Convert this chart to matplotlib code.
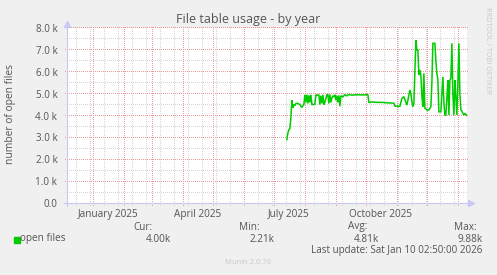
import numpy as np
import pandas as pd
import matplotlib
matplotlib.use('Agg')
import matplotlib.pyplot as plt
import matplotlib.dates as mdates
from matplotlib.lines import Line2D
from matplotlib.transforms import IdentityTransform

plt.rcParams['font.family'] = ['Open Sans', 'DejaVu Sans']

# ---- data (open files, in thousands) ----
dates = [
    '2025-07-14', '2025-07-15', '2025-07-16', '2025-07-17', '2025-07-18', '2025-07-19',
    '2025-07-20', '2025-07-21', '2025-07-22', '2025-07-23', '2025-07-25', '2025-07-27',
    '2025-07-28', '2025-07-29', '2025-07-30', '2025-07-31', '2025-08-01', '2025-08-02',
    '2025-08-03', '2025-08-04', '2025-08-05', '2025-08-06', '2025-08-07', '2025-08-08',
    '2025-08-09', '2025-08-11', '2025-08-12', '2025-08-13', '2025-08-15', '2025-08-16',
    '2025-08-17', '2025-08-18', '2025-08-19', '2025-08-20', '2025-08-21', '2025-08-23',
    '2025-08-24', '2025-08-25', '2025-08-26', '2025-08-27', '2025-08-28', '2025-08-29',
    '2025-08-30', '2025-08-31', '2025-09-01', '2025-09-02', '2025-09-03', '2025-09-04',
    '2025-09-05', '2025-09-06', '2025-09-08', '2025-09-10', '2025-09-12', '2025-09-14',
    '2025-09-17', '2025-09-22', '2025-09-27', '2025-10-03', '2025-10-04', '2025-10-07',
    '2025-10-12', '2025-10-17', '2025-10-22', '2025-10-27', '2025-10-29', '2025-10-30',
    '2025-11-04', '2025-11-06', '2025-11-08', '2025-11-10', '2025-11-11', '2025-11-12',
    '2025-11-14', '2025-11-15', '2025-11-16', '2025-11-17', '2025-11-18', '2025-11-19',
    '2025-11-20', '2025-11-21', '2025-11-22', '2025-11-23', '2025-11-24', '2025-11-25',
    '2025-11-26', '2025-11-27', '2025-11-28', '2025-11-29', '2025-11-30', '2025-12-01',
    '2025-12-03', '2025-12-04', '2025-12-05', '2025-12-06', '2025-12-07', '2025-12-09',
    '2025-12-10', '2025-12-11', '2025-12-12', '2025-12-13', '2025-12-15', '2025-12-16',
    '2025-12-17', '2025-12-18', '2025-12-19', '2025-12-20', '2025-12-21', '2025-12-22',
    '2025-12-23', '2025-12-24', '2025-12-25', '2025-12-26', '2025-12-27', '2025-12-28',
    '2025-12-29', '2025-12-30', '2025-12-31', '2026-01-01', '2026-01-02', '2026-01-03',
    '2026-01-04', '2026-01-05', '2026-01-06', '2026-01-07', '2026-01-08', '2026-01-10',
]
open_files = [
    2.90, 3.20, 3.35, 3.40, 3.90, 4.70,
    4.35, 4.50, 4.45, 4.55, 4.55, 4.50,
    4.42, 4.38, 4.45, 4.50, 4.95, 4.60,
    4.95, 4.55, 4.92, 4.60, 4.95, 4.50,
    4.50, 4.52, 4.95, 4.92, 4.95, 4.50,
    4.90, 4.55, 4.95, 4.50, 4.60, 4.95,
    4.95, 4.55, 4.96, 4.60, 4.80, 4.90,
    4.85, 4.95, 4.70, 4.90, 4.60, 4.92,
    4.42, 4.90, 4.85, 4.95, 4.90, 4.96,
    4.93, 4.95, 4.94, 4.95, 4.60, 4.62,
    4.60, 4.60, 4.58, 4.57, 4.56, 4.43,
    4.42, 4.78, 4.86, 4.60, 4.48, 4.70,
    5.17, 5.00, 4.63, 4.40, 4.55, 6.00,
    7.45, 7.00, 7.00, 5.85, 6.08, 5.85,
    4.90, 4.40, 5.93, 4.33, 4.30, 4.25,
    4.25, 4.33, 4.40, 5.50, 7.30, 7.30,
    6.50, 5.93, 5.62, 4.17, 4.17, 5.00,
    5.77, 4.60, 4.02, 4.02, 4.80, 5.62,
    4.02, 5.62, 5.70, 7.30, 5.00, 4.02,
    5.62, 4.80, 4.02, 5.50, 7.30, 5.00,
    4.25, 4.20, 4.10, 4.02, 4.10, 4.00,
]

y_ticks = [0, 1, 2, 3, 4, 5, 6, 7, 8]
y_tick_labels = ['0.0', '1.0 k', '2.0 k', '3.0 k', '4.0 k', '5.0 k', '6.0 k', '7.0 k', '8.0 k']
label_months = ['2025-01-01', '2025-04-01', '2025-07-01', '2025-10-01']
label_texts = ['January 2025', 'April 2025', 'July 2025', 'October 2025']

stat_names = ['Cur:', 'Min:', 'Avg:', 'Max:']
stat_values = ['4.00k', '2.21k', '4.81k', '9.88k']

end_time = pd.Timestamp('2026-01-10 02:50:00')
start_time = end_time - pd.Timedelta(days=400)

# ---- colours ----
bg = '#F0F0F0'
txt = '#555555'
green = '#00CC00'
major_c = '#EA9A9A'
minor_c = '#D4D4D4'
axis_c = '#C8C8F5'

W, H = 497, 275
fig = plt.figure(figsize=(W / 100, H / 100), dpi=100, facecolor=bg)
ax = fig.add_axes([67 / W, 1 - 203 / H, 400 / W, 175 / H])
ax.set_facecolor('white')
for s in ax.spines.values():
    s.set_visible(False)

ax.set_xlim(start_time, end_time)
ax.set_ylim(0, 8)

# dotted grid drawn pixel by pixel (rrdtool style)
def px_x(d):
    return int(np.floor(ax.transData.transform((mdates.date2num(d), 0))[0]))

def px_y(v):
    return int(np.floor(ax.transData.transform((mdates.date2num(start_time), v))[1]))

left_px, bottom_px = px_x(start_time), px_y(0)
right_px, top_px = px_x(end_time), px_y(8)

def dotted(xs_px, ys_px, color, z):
    ln = Line2D(np.asarray(xs_px) + 0.5, np.asarray(ys_px) + 0.5, ls='none', marker=',',
                color=color, transform=IdentityTransform(), clip_on=False,
                antialiased=False, zorder=z)
    ax.add_line(ln)

def vgrid(days, color, z):
    xs, ys = [], []
    for d in days:
        x = px_x(d)
        col = np.arange(bottom_px - 3, top_px + 1, 2)
        xs.extend([x] * len(col))
        ys.extend(col)
    dotted(xs, ys, color, z)

def hgrid(vals, color, z):
    xs, ys = [], []
    for v in vals:
        y = px_y(v)
        row = np.arange(left_px - 3, right_px + 1, 2)
        xs.extend(row)
        ys.extend([y] * len(row))
    dotted(xs, ys, color, z)

biweekly = pd.date_range('2024-12-15', end_time, freq='14D')
month_starts = pd.date_range('2025-01-01', end_time, freq='MS')
vgrid(biweekly, minor_c, 1)
hgrid(np.arange(0.5, 8.0, 1.0), minor_c, 1)
vgrid(month_starts, major_c, 2)
hgrid(y_ticks[1:], major_c, 2)

# axes with arrows
ax.plot([start_time - pd.Timedelta(days=3), end_time + pd.Timedelta(days=4)], [0, 0],
        color=axis_c, lw=0.8, clip_on=False, zorder=3)
ax.plot([end_time + pd.Timedelta(days=4)], [0], marker='>', ms=4, color=axis_c,
        mec=axis_c, clip_on=False, zorder=3)
ax.plot([start_time, start_time], [-0.12, 8.2], color=axis_c, lw=0.8, clip_on=False, zorder=3)
ax.plot([start_time], [8.2], marker='^', ms=4, color=axis_c, mec=axis_c,
        clip_on=False, zorder=3)

# data
ax.plot(pd.to_datetime(dates), open_files, color=green, lw=1.1, zorder=5,
        solid_joinstyle='miter')

ax.set_xlim(start_time, end_time)
ax.set_ylim(0, 8)

# ticks
ax.set_yticks(y_ticks)
ax.set_yticklabels(y_tick_labels, fontsize=7.1, color=txt)
label_pos = pd.to_datetime(label_months) + pd.Timedelta(days=15)
ax.set_xticks(label_pos)
ax.set_xticklabels(label_texts, fontsize=7.2, color=txt)
ax.tick_params(axis='both', length=0)
ax.tick_params(axis='y', pad=7)
ax.tick_params(axis='x', pad=4)

# texts
def ft(x, y, s, **kw):
    fig.text(x / W, 1 - y / H, s, **kw)

ft(248, 20, 'File table usage - by year', ha='center', va='center', fontsize=9, color=txt)
ft(11, 114, 'number of open files', ha='center', va='center', rotation=90,
   fontsize=7.4, color=txt)
ft(488, 51, 'RRDTOOL / TOBI OETIKER', ha='center', va='center', rotation=270,
   fontsize=5.2, color='#C8C8C8')

# legend
fig.patches.append(plt.Rectangle((14 / W, 1 - 243 / H), 6 / W, 6 / H,
                                 transform=fig.transFigure, color=green))
ft(20, 239, 'open files', ha='left', va='center', fontsize=7.2, color=txt)
name_right = [153, 260, 367, 477]
value_right = [171, 275, 379, 483]
for n, v, xn, xv in zip(stat_names, stat_values, name_right, value_right):
    ft(xn, 227, n, ha='right', va='center', fontsize=7.2, color=txt)
    ft(xv, 239, v, ha='right', va='center', fontsize=7.2, color=txt)
ft(482, 251, 'Last update: Sat Jan 10 02:50:00 2026', ha='right', va='center',
   fontsize=7.1, color=txt)
ft(248, 263, 'Munin 2.0.76', ha='center', va='center', fontsize=5.5, color='#C8C8C8')

fig.savefig('out.png', dpi=100, facecolor=bg)
